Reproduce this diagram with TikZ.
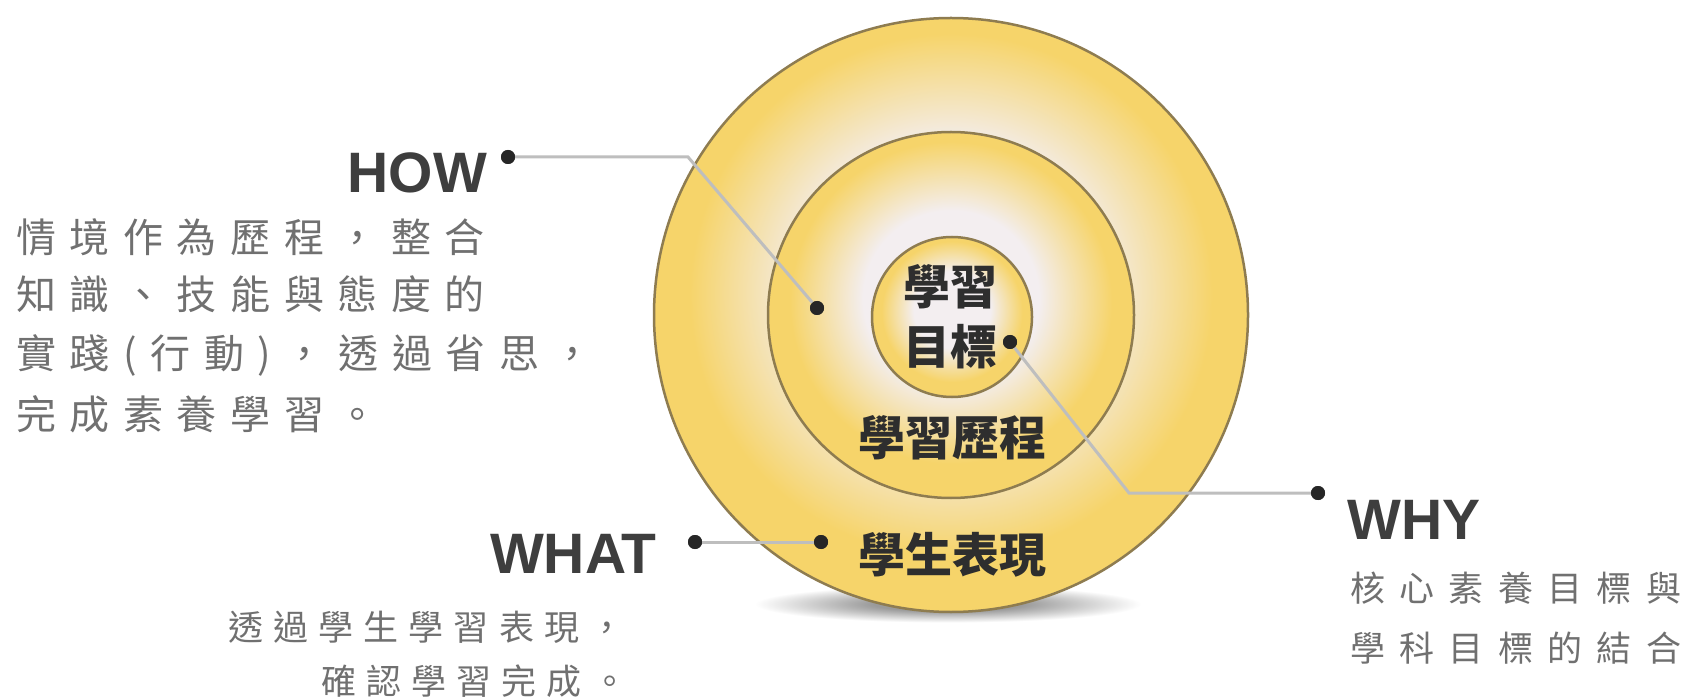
\documentclass[tikz,border=0pt]{standalone}
\usepackage{fontspec}
\setmainfont{Liberation Sans}
\newfontfamily\cjk{Noto Sans CJK TC}
\definecolor{ringY}{HTML}{F6D46A}
\definecolor{ringW}{HTML}{F3EEF0}
\definecolor{ringEdge}{HTML}{8E7C50}
\definecolor{titleC}{HTML}{3E3E3E}
\definecolor{descC}{HTML}{707070}
\definecolor{lineC}{HTML}{BEBEBE}
\definecolor{labC}{HTML}{2E2E2E}
\definecolor{shadC}{HTML}{9A9A9A}
\pgfdeclareradialshading{glow}{\pgfpoint{0bp}{3bp}}{color(0bp)=(ringW); color(12bp)=(ringW); color(22bp)=(ringY); color(25bp)=(ringY); color(50bp)=(ringY)}
\pgfdeclareradialshading{softshadow}{\pgfpoint{0bp}{0bp}}{color(0bp)=(shadC); color(8bp)=(shadC); color(21bp)=(white); color(50bp)=(white)}
\tikzset{
  ring/.style={shading=glow, draw=ringEdge, line width=2.5pt},
  conn/.style={draw=lineC, line width=3pt},
  dotm/.style={circle, fill=black!85, inner sep=0pt, minimum size=14pt},
  titlet/.style={text=titleC, inner sep=0pt, font=\fontsize{57}{60}\selectfont\bfseries},
  howd/.style={text=descC, inner sep=0pt, anchor=base west, font=\cjk\addfontfeature{LetterSpace=34}\fontsize{40}{42}\selectfont},
  whatd/.style={text=descC, inner sep=0pt, anchor=base west, font=\cjk\addfontfeature{LetterSpace=29}\fontsize{35}{40}\selectfont},
  whyd/.style={text=descC, inner sep=0pt, anchor=base west, font=\cjk\addfontfeature{LetterSpace=41}\fontsize{35}{40}\selectfont},
  inlab/.style={text=labC, inner sep=0pt, align=center, font=\cjk\bfseries\fontsize{47}{60}\selectfont}
}
\begin{document}
\begin{tikzpicture}[x=1pt,y=-1pt]
\fill[white] (0,0) rectangle (1689,700);
\useasboundingbox (0,0) rectangle (1689,700);
% shadow
\shade[shading=softshadow] (948,604) ellipse [x radius=230, y radius=22];
% rings
\shadedraw[ring] (951,315) circle [radius=297];
\shadedraw[ring] (951,315) circle [radius=183];
\shadedraw[ring] (952,317) circle [radius=80];
% labels inside
\node[inlab] (goal) at (950,317) {學習\\目標};
\node[inlab] (process) at (952,438) {學習歷程};
\node[inlab] (perf) at (952,555) {學生表現};
% dots
\node[dotm] (howA) at (508,157) {};
\node[dotm] (howC) at (817,308) {};
\node[dotm] (whyA) at (1010,342) {};
\node[dotm] (whyC) at (1318,493) {};
\node[dotm] (whatA) at (695,542) {};
\node[dotm] (whatC) at (821,542) {};
\coordinate (howB) at (688,157);
\coordinate (whyB) at (1129,493);
% connectors
\draw[conn] (howA) -- (howB) -- (howC);
\draw[conn] (whyA) -- (whyB) -- (whyC);
\draw[conn] (whatA) -- (whatC);
% redraw dots on top
\fill[black!85] (howA) circle [radius=7] (howC) circle [radius=7] (whyA) circle [radius=7] (whyC) circle [radius=7] (whatA) circle [radius=7] (whatC) circle [radius=7];
% titles
\node[titlet, anchor=base east] (how) at (487,193) {HOW};
\node[titlet, anchor=base east] (what) at (657,573) {WHAT};
\node[titlet, anchor=base west] (why) at (1347,539) {WHY};
% descriptions
\node[howd] (how1) at (16,253) {情境作為歷程，整合};
\node[howd] (how2) at (16,310) {知識、技能與態度的};
\node[howd] (how3) at (16,369) {實踐(行動)，透過省思，};
\node[howd] (how4) at (16,429) {完成素養學習。};
\node[whatd] (what1) at (228,640) {透過學生學習表現，};
\node[whatd] (what2) at (321,694) {確認學習完成。};
\node[whyd] (why1) at (1350,601) {核心素養目標與};
\node[whyd] (why2) at (1350,661) {學科目標的結合};
\end{tikzpicture}
\end{document}
